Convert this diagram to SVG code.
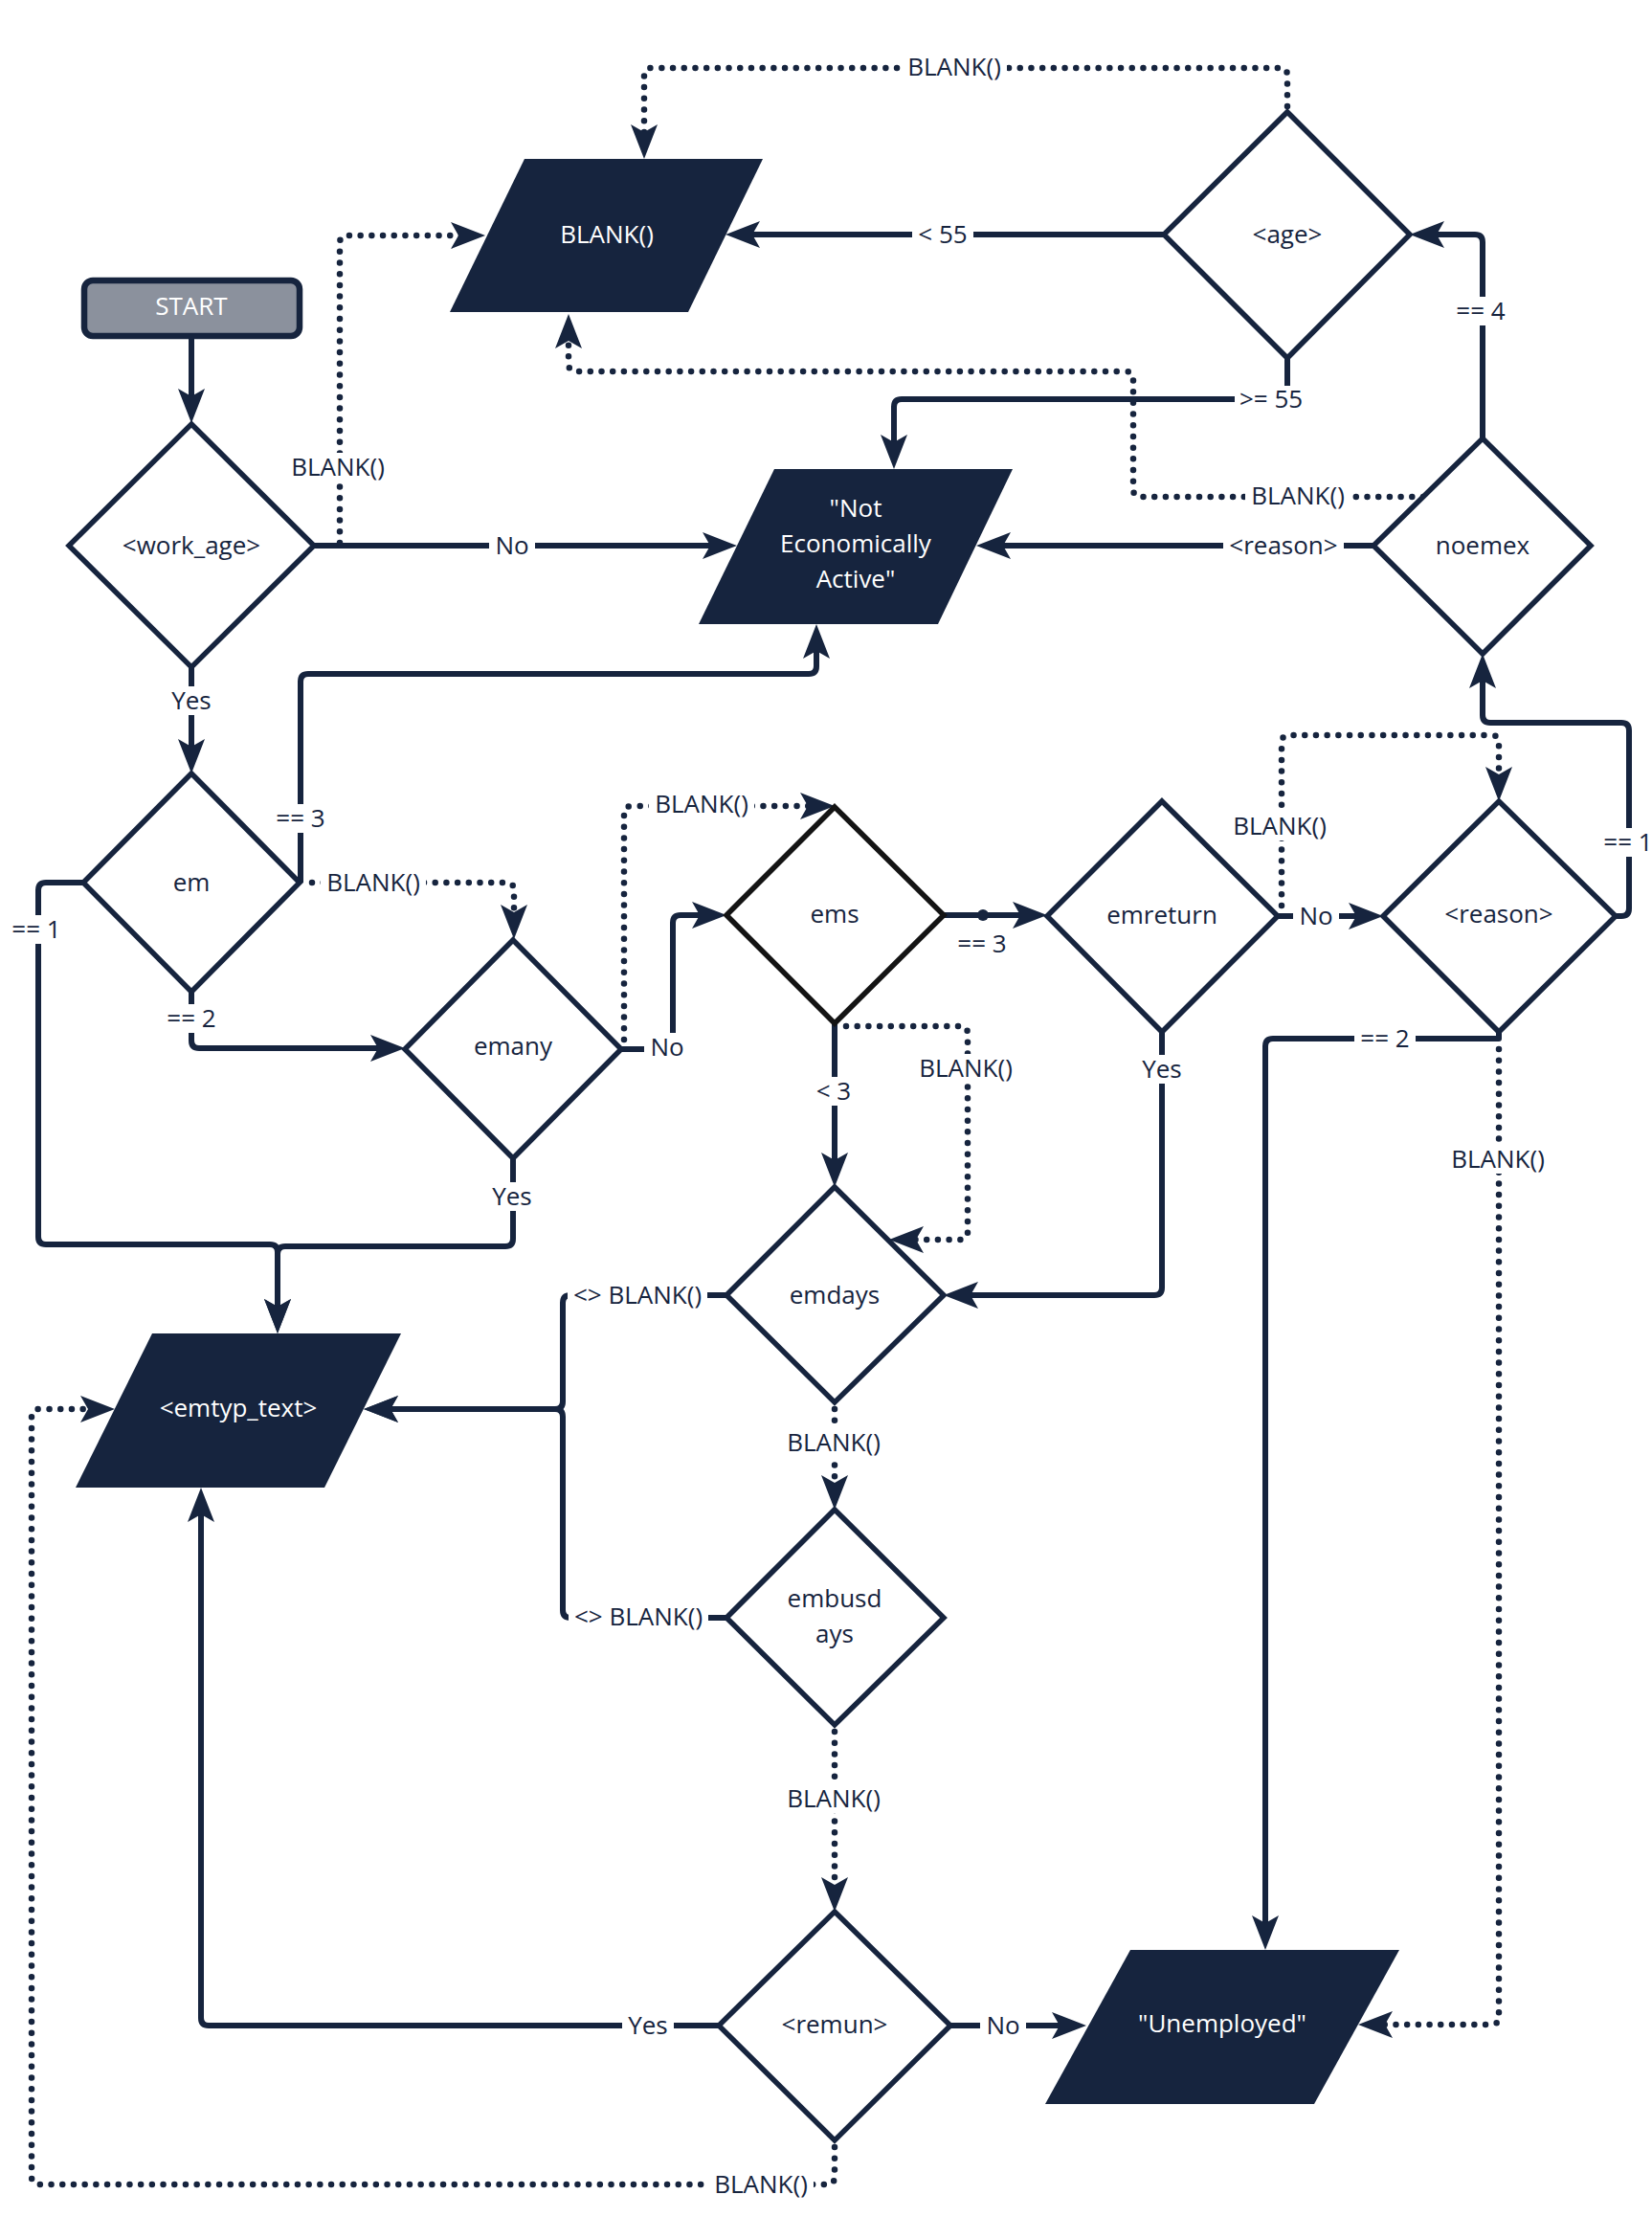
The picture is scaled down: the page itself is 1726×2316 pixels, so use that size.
<svg xmlns="http://www.w3.org/2000/svg" width="1726" height="2316" viewBox="0 0 1726 2316">
  <style>
    .txt { font-family: "Open Sans", "Noto Sans", "Liberation Sans", sans-serif; font-size: 26px; text-anchor: middle; fill: #16243e; }
    .wt { fill: #ffffff; }
    .dia { fill: #ffffff; stroke: #16243e; stroke-width: 5.5; stroke-linejoin: miter; }
    .para { fill: #16243e; stroke: none; }
    .ln { fill: none; stroke: #16243e; stroke-width: 6; stroke-linejoin: round; }
    .dt { fill: none; stroke: #16243e; stroke-width: 6.5; stroke-linecap: round; stroke-dasharray: 0 11.7; stroke-linejoin: round; }
    .arr { marker-end: url(#head); }
    .bg { fill: #ffffff; }
  </style>
  <defs>
    <marker id="head" viewBox="0 0 36 28" refX="26" refY="14" markerWidth="36" markerHeight="28" markerUnits="userSpaceOnUse" orient="auto">
      <path d="M0,0 L36,14 L0,28 L8,14 Z" fill="#16243e"/>
    </marker>
  </defs>
  <rect x="0" y="0" width="1726" height="2316" fill="#ffffff"/>

  <!-- connectors -->
  <g id="connectors">
    <path class="ln arr" d="M200,352 V432"/>
    <path class="dt arr" d="M355,567 V254 Q355,246 363,246 H497"/>
    <path class="ln arr" d="M328,570 H760"/>
    <path class="ln arr" d="M200,697 V798"/>
    <path class="ln arr" d="M314,922 V712 Q314,704 322,704 H845 Q853,704 853,696 V662"/>
    <path class="dt arr" d="M326,922 H529 Q537,922 537,930 V971"/>
    <path class="ln arr" d="M87,922 H48 Q40,922 40,930 V1292 Q40,1300 48,1300 H282 Q290,1300 290,1308 V1383"/>
    <path class="ln arr" d="M200,1036 V1087 Q200,1095 208,1095 H413"/>
    <path class="ln arr" d="M536,1210 V1294 Q536,1302 528,1302 H298 Q290,1302 290,1310 V1383"/>
    <path class="ln arr" d="M649,1096 H695 Q703,1096 703,1088 V964 Q703,956 711,956 H749"/>
    <path class="dt arr" d="M652,1086 V850 Q652,842 660,842 H862"/>
    <path class="ln arr" d="M986,956 H1084"/>
    <circle cx="1027" cy="956" r="6" fill="#16243e"/>
    <path class="ln arr" d="M872,1069 V1230"/>
    <path class="dt arr" d="M884,1072 H1003 Q1011,1072 1011,1080 V1287 Q1011,1295 1003,1295 H939"/>
    <path class="ln arr" d="M1214,1078 V1345 Q1214,1353 1206,1353 H996"/>
    <path class="ln arr" d="M1335,957 H1435"/>
    <path class="dt arr" d="M1339,946 V776 Q1339,768 1347,768 H1558 Q1566,768 1566,776 V827"/>
    <path class="ln arr" d="M1688,957 H1694 Q1702,957 1702,949 V763 Q1702,755 1694,755 H1557 Q1549,755 1549,747 V693"/>
    <path class="ln arr" d="M1566,1078 V1085 H1330 Q1322,1085 1322,1093 V2027"/>
    <path class="dt arr" d="M1566,1096 V2107 Q1566,2115 1558,2115 H1429"/>
    <path class="ln arr" d="M1549,458 V253 Q1549,245 1541,245 H1483"/>
    <path class="ln arr" d="M1435,570 H1030"/>
    <path class="dt arr" d="M1487,519 H1192 Q1184,519 1184,511 V396 Q1184,388 1176,388 H602 Q594,388 594,380 V338"/>
    <path class="ln arr" d="M1216,245 H768"/>
    <path class="ln arr" d="M1345,374 V409 Q1345,417 1337,417 H942 Q934,417 934,425 V480"/>
    <path class="dt arr" d="M1345,111 V79 Q1345,71 1337,71 H681 Q673,71 673,79 V156"/>
    <path class="ln arr" d="M759,1353 H596 Q588,1353 588,1361 V1464 Q588,1472 580,1472 H390"/>
    <path class="ln arr" d="M759,1690 H596 Q588,1690 588,1682 V1480 Q588,1472 580,1472 H390"/>
    <path class="dt arr" d="M872,1472 V1567"/>
    <path class="dt arr" d="M872,1809 V1987"/>
    <path class="ln arr" d="M751,2116 H218 Q210,2116 210,2108 V1564"/>
    <path class="dt arr" d="M872,2243 V2274 Q872,2282 864,2282 H41 Q33,2282 33,2274 V1480 Q33,1472 41,1472 H110"/>
    <path class="ln arr" d="M993,2116 H1125"/>

    <!-- connector labels -->
    <g id="labels">
      <rect class="bg" x="298" y="473" width="110" height="30"/><text class="txt" x="353" y="497">BLANK()</text>
      <rect class="bg" x="511" y="555" width="48" height="30"/><text class="txt" x="535" y="579">No</text>
      <rect class="bg" x="173" y="717" width="54" height="30"/><text class="txt" x="200" y="741">Yes</text>
      <rect class="bg" x="282" y="840" width="64" height="30"/><text class="txt" x="314" y="864">== 3</text>
      <rect class="bg" x="335" y="907" width="110" height="30"/><text class="txt" x="390" y="931">BLANK()</text>
      <rect class="bg" x="6" y="956" width="64" height="30"/><text class="txt" x="38" y="980">== 1</text>
      <rect class="bg" x="168" y="1049" width="64" height="30"/><text class="txt" x="200" y="1073">== 2</text>
      <rect class="bg" x="508" y="1235" width="54" height="30"/><text class="txt" x="535" y="1259">Yes</text>
      <rect class="bg" x="673" y="1079" width="48" height="30"/><text class="txt" x="697" y="1103">No</text>
      <rect class="bg" x="678" y="825" width="110" height="30"/><text class="txt" x="733" y="849">BLANK()</text>
      <text class="txt" x="1026" y="995">== 3</text>
      <rect class="bg" x="847" y="1125" width="48" height="30"/><text class="txt" x="871" y="1149">&lt; 3</text>
      <rect class="bg" x="954" y="1101" width="110" height="30"/><text class="txt" x="1009" y="1125">BLANK()</text>
      <rect class="bg" x="1187" y="1102" width="54" height="30"/><text class="txt" x="1214" y="1126">Yes</text>
      <rect class="bg" x="1351" y="942" width="48" height="30"/><text class="txt" x="1375" y="966">No</text>
      <rect class="bg" x="1282" y="848" width="110" height="30"/><text class="txt" x="1337" y="872">BLANK()</text>
      <rect class="bg" x="1669" y="865" width="64" height="30"/><text class="txt" x="1701" y="889">== 1</text>
      <rect class="bg" x="1415" y="1070" width="64" height="30"/><text class="txt" x="1447" y="1094">== 2</text>
      <rect class="bg" x="1510" y="1196" width="110" height="30"/><text class="txt" x="1565" y="1220">BLANK()</text>
      <rect class="bg" x="1515" y="310" width="64" height="30"/><text class="txt" x="1547" y="334">== 4</text>
      <rect class="bg" x="1278" y="555" width="126" height="30"/><text class="txt" x="1341" y="579">&lt;reason&gt;</text>
      <rect class="bg" x="1301" y="503" width="110" height="30"/><text class="txt" x="1356" y="527">BLANK()</text>
      <rect class="bg" x="953" y="230" width="64" height="30"/><text class="txt" x="985" y="254">&lt; 55</text>
      <rect class="bg" x="1290" y="403" width="76" height="30"/><text class="txt" x="1328" y="426">&gt;= 55</text>
      <rect class="bg" x="942" y="55" width="110" height="30"/><text class="txt" x="997" y="79">BLANK()</text>
      <rect class="bg" x="593" y="1338" width="146" height="30"/><text class="txt" x="666" y="1362">&lt;&gt; BLANK()</text>
      <rect class="bg" x="594" y="1674" width="146" height="30"/><text class="txt" x="667" y="1698">&lt;&gt; BLANK()</text>
      <rect class="bg" x="816" y="1492" width="110" height="30"/><text class="txt" x="871" y="1516">BLANK()</text>
      <rect class="bg" x="816" y="1864" width="110" height="30"/><text class="txt" x="871" y="1888">BLANK()</text>
      <rect class="bg" x="650" y="2101" width="54" height="30"/><text class="txt" x="677" y="2125">Yes</text>
      <rect class="bg" x="740" y="2267" width="110" height="30"/><text class="txt" x="795" y="2291">BLANK()</text>
      <rect class="bg" x="1024" y="2101" width="48" height="30"/><text class="txt" x="1048" y="2125">No</text>
    </g>
  </g>

  <!-- nodes -->
  <g id="start">
    <rect x="88" y="293" width="225" height="58" rx="9" fill="#8b919d" stroke="#16243e" stroke-width="6.5"/>
    <text class="txt wt" x="200" y="329">START</text>
  </g>
  <g id="work_age">
    <polygon class="dia" points="200,443 328,570 200,697 72,570"/>
    <text class="txt" x="200" y="579">&lt;work_age&gt;</text>
  </g>
  <g id="em">
    <polygon class="dia" points="200,808 313,922 200,1036 87,922"/>
    <text class="txt" x="200" y="931">em</text>
  </g>
  <g id="emany">
    <polygon class="dia" points="536,982 649,1096 536,1210 423,1096"/>
    <text class="txt" x="536" y="1102">emany</text>
  </g>
  <g id="ems">
    <polygon class="dia" points="872,843 986,956 872,1069 759,956" style="stroke:#141414"/>
    <text class="txt" x="872" y="964">ems</text>
  </g>
  <g id="emreturn">
    <polygon class="dia" points="1214,837 1335,957 1214,1078 1094,957"/>
    <text class="txt" x="1214" y="965">emreturn</text>
  </g>
  <g id="reason">
    <polygon class="dia" points="1566,837 1688,957 1566,1078 1445,957"/>
    <text class="txt" x="1566" y="964">&lt;reason&gt;</text>
  </g>
  <g id="noemex">
    <polygon class="dia" points="1549,458 1662,570 1549,683 1435,570"/>
    <text class="txt" x="1549" y="579">noemex</text>
  </g>
  <g id="age">
    <polygon class="dia" points="1345,117 1473,245 1345,374 1216,245"/>
    <text class="txt" x="1345" y="254">&lt;age&gt;</text>
  </g>
  <g id="emdays">
    <polygon class="dia" points="872,1240 986,1353 872,1465 759,1353"/>
    <text class="txt" x="872" y="1362">emdays</text>
  </g>
  <g id="embusdays">
    <polygon class="dia" points="872,1577 986,1690 872,1802 759,1690"/>
    <text class="txt" x="872" y="1679">embusd</text>
    <text class="txt" x="872" y="1716">ays</text>
  </g>
  <g id="remun">
    <polygon class="dia" points="872,1997 993,2116 872,2236 751,2116"/>
    <text class="txt" x="872" y="2124">&lt;remun&gt;</text>
  </g>
  <g id="out_blank">
    <polygon class="para" points="548,166 797,166 719,326 470,326"/>
    <text class="txt wt" x="634" y="254">BLANK()</text>
  </g>
  <g id="out_not_active">
    <polygon class="para" points="809,490 1058,490 980,652 730,652"/>
    <text class="txt wt" x="894" y="540">"Not</text>
    <text class="txt wt" x="894" y="577">Economically</text>
    <text class="txt wt" x="894" y="614">Active"</text>
  </g>
  <g id="out_emtyp">
    <polygon class="para" points="159,1393 419,1393 339,1554 79,1554"/>
    <text class="txt wt" x="249" y="1480">&lt;emtyp_text&gt;</text>
  </g>
  <g id="out_unemployed">
    <polygon class="para" points="1181,2037 1462,2037 1373,2198 1092,2198"/>
    <text class="txt wt" x="1277" y="2123">"Unemployed"</text>
  </g>
</svg>
